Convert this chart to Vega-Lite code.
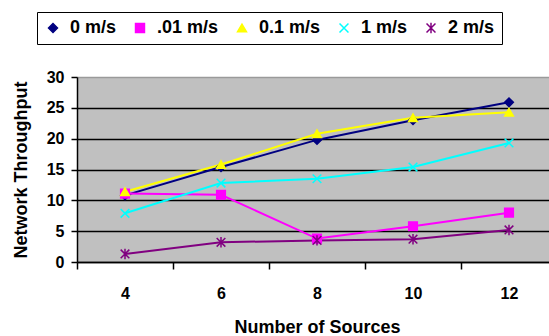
{
  "$schema": "https://vega.github.io/schema/vega-lite/v6.json",
  "autosize": "none",
  "padding": {"left": 77, "top": 77, "right": 0, "bottom": 74},
  "width": 480,
  "height": 185,
  "background": "white",
  "config": {
    "view": {"fill": "#C0C0C0", "stroke": null},
    "font": "Liberation Sans",
    "axis": {"labelFont": "Liberation Sans", "titleFont": "Liberation Sans", "labelFontWeight": "bold", "titleFontWeight": "bold", "labelColor": "black", "titleColor": "black", "domainColor": "black", "tickColor": "black", "labelFontSize": 16, "titleFontSize": 18, "domainWidth": 1.5, "tickWidth": 1.5}
  },
  "data": {
    "values": [
      {"sources": 4, "series": "0 m/s", "throughput": 10.8},
      {"sources": 6, "series": "0 m/s", "throughput": 15.4},
      {"sources": 8, "series": "0 m/s", "throughput": 19.8},
      {"sources": 10, "series": "0 m/s", "throughput": 23.0},
      {"sources": 12, "series": "0 m/s", "throughput": 25.9},
      {"sources": 4, "series": ".01 m/s", "throughput": 11.1},
      {"sources": 6, "series": ".01 m/s", "throughput": 10.9},
      {"sources": 8, "series": ".01 m/s", "throughput": 3.8},
      {"sources": 10, "series": ".01 m/s", "throughput": 5.8},
      {"sources": 12, "series": ".01 m/s", "throughput": 8.0},
      {"sources": 4, "series": "0.1 m/s", "throughput": 11.4},
      {"sources": 6, "series": "0.1 m/s", "throughput": 15.8},
      {"sources": 8, "series": "0.1 m/s", "throughput": 20.8},
      {"sources": 10, "series": "0.1 m/s", "throughput": 23.4},
      {"sources": 12, "series": "0.1 m/s", "throughput": 24.3},
      {"sources": 4, "series": "1 m/s", "throughput": 7.9},
      {"sources": 6, "series": "1 m/s", "throughput": 12.8},
      {"sources": 8, "series": "1 m/s", "throughput": 13.5},
      {"sources": 10, "series": "1 m/s", "throughput": 15.4},
      {"sources": 12, "series": "1 m/s", "throughput": 19.3},
      {"sources": 4, "series": "2 m/s", "throughput": 1.3},
      {"sources": 6, "series": "2 m/s", "throughput": 3.2},
      {"sources": 8, "series": "2 m/s", "throughput": 3.5},
      {"sources": 10, "series": "2 m/s", "throughput": 3.7},
      {"sources": 12, "series": "2 m/s", "throughput": 5.2}
    ]
  },
  "encoding": {
    "x": {
      "field": "sources", "type": "quantitative",
      "scale": {"domain": [3, 13], "nice": false, "zero": false},
      "axis": {
        "title": "Number of Sources",
        "values": [3, 4, 5, 6, 7, 8, 9, 10, 11, 12, 13],
        "labelExpr": "datum.value % 2 === 0 ? datum.label : ''",
        "tickOpacity": {"condition": {"test": "datum.value % 2 === 1", "value": 1}, "value": 0},
        "tickSize": 7,
        "labelPadding": 16,
        "titlePadding": 17,
        "grid": false
      }
    },
    "y": {
      "field": "throughput", "type": "quantitative",
      "scale": {"domain": [0, 30], "nice": false},
      "axis": {
        "title": "Network Throughput",
        "values": [0, 5, 10, 15, 20, 25, 30],
        "grid": true,
        "gridColor": {"condition": {"test": "datum.value === 30", "value": "#9a9a9a"}, "value": "black"},
        "gridWidth": 1.5,
        "gridOpacity": 1,
        "tickSize": 6,
        "labelPadding": 7,
        "titlePadding": 16
      }
    }
  },
  "layer": [
    {
      "mark": {"type": "line", "strokeWidth": 2},
      "encoding": {
        "color": {
          "field": "series", "type": "nominal",
          "scale": {"domain": ["0 m/s", ".01 m/s", "0.1 m/s", "1 m/s", "2 m/s"], "range": ["#000080", "#FF00FF", "#FFFF00", "#00FFFF", "#800080"]},
          "legend": {
            "title": null,
            "orient": "none",
            "legendX": -40,
            "legendY": -65,
            "direction": "horizontal",
            "columns": 5,
            "fillColor": "white",
            "strokeColor": "black",
            "padding": 7,
            "columnPadding": 14,
            "labelFont": "Liberation Sans",
            "labelFontWeight": "bold",
            "labelFontSize": 18,
            "labelColor": "black",
            "labelOffset": 8,
            "symbolSize": 80,
            "symbolStrokeWidth": 1.5
          }
        }
      }
    },
    {
      "mark": {"type": "point", "filled": true, "size": 75, "strokeWidth": 1.5, "opacity": 1},
      "encoding": {
        "color": {"field": "series", "type": "nominal", "legend": null},
        "stroke": {
          "field": "series", "type": "nominal", "legend": null,
          "scale": {"domain": ["0 m/s", ".01 m/s", "0.1 m/s", "1 m/s", "2 m/s"], "range": ["#000080", "#FF00FF", "#FFFF00", "#00FFFF", "#800080"]}
        },
        "shape": {
          "field": "series", "type": "nominal", "legend": null,
          "scale": {"domain": ["0 m/s", ".01 m/s", "0.1 m/s", "1 m/s", "2 m/s"], "range": ["diamond", "square", "triangle-up", "M-1,-1L1,1M-1,1L1,-1", "M-1,-1L1,1M-1,1L1,-1M0,-1.2L0,1.2"]}
        }
      }
    }
  ]
}
